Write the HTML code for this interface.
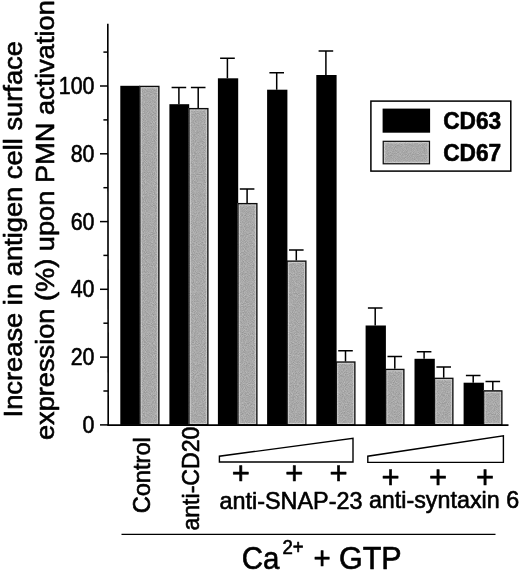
<!DOCTYPE html>
<html lang="en"><head><meta charset="utf-8"><title>CD63 / CD67 expression</title>
<style>html,body{margin:0;padding:0;background:#fff}svg{display:block;will-change:transform}text{font-family:"Liberation Sans",sans-serif;fill:#000;stroke:#000;stroke-width:.62px;stroke-linejoin:round}</style></head><body>
<svg width="520" height="571" viewBox="0 0 520 571">
<defs><filter id="grain" x="0" y="0" width="100%" height="100%" color-interpolation-filters="sRGB"><feTurbulence type="fractalNoise" baseFrequency="1.1" numOctaves="1" seed="7"/><feColorMatrix type="matrix" values="0.26 0 0 0 0.53  0.26 0 0 0 0.53  0.26 0 0 0 0.53  0 0 0 0 1"/></filter></defs>
<rect width="520" height="571" fill="#fff"/>
<rect x="120.3" y="85.8" width="19.8" height="339.1" fill="#000"/>
<rect x="139.8" y="86.4" width="19.1" height="338.5" fill="#a9a9a9" filter="url(#grain)"/>
<rect x="141.2" y="87.8" width="16.3" height="335.7" fill="none" stroke="#fff" stroke-opacity="0.35" stroke-width="1.2"/>
<rect x="139.8" y="86.4" width="19.1" height="338.5" fill="none" stroke="#0d0d0d" stroke-width="1.3"/>
<rect x="169.4" y="104.2" width="19.8" height="320.7" fill="#000"/>
<rect x="188.9" y="108.6" width="19.0" height="316.3" fill="#a9a9a9" filter="url(#grain)"/>
<rect x="190.3" y="110.0" width="16.2" height="313.5" fill="none" stroke="#fff" stroke-opacity="0.35" stroke-width="1.2"/>
<rect x="188.9" y="108.6" width="19.0" height="316.3" fill="none" stroke="#0d0d0d" stroke-width="1.3"/>
<path d="M178.9 104.2V87.5M171.6 87.5H186.2" stroke="#000" stroke-width="1.5" fill="none"/>
<path d="M198.2 108.0V87.5M190.9 87.5H205.5" stroke="#000" stroke-width="1.5" fill="none"/>
<rect x="217.9" y="78.3" width="20.3" height="346.6" fill="#000"/>
<rect x="237.9" y="203.6" width="19.0" height="221.3" fill="#a9a9a9" filter="url(#grain)"/>
<rect x="239.3" y="205.0" width="16.2" height="218.5" fill="none" stroke="#fff" stroke-opacity="0.35" stroke-width="1.2"/>
<rect x="237.9" y="203.6" width="19.0" height="221.3" fill="none" stroke="#0d0d0d" stroke-width="1.3"/>
<path d="M227.4 78.3V58.3M220.1 58.3H234.8" stroke="#000" stroke-width="1.5" fill="none"/>
<path d="M247.1 203.0V189.0M239.8 189.0H254.4" stroke="#000" stroke-width="1.5" fill="none"/>
<rect x="267.1" y="89.7" width="20.3" height="335.2" fill="#000"/>
<rect x="287.1" y="261.1" width="18.8" height="163.8" fill="#a9a9a9" filter="url(#grain)"/>
<rect x="288.5" y="262.5" width="16.0" height="161.0" fill="none" stroke="#fff" stroke-opacity="0.35" stroke-width="1.2"/>
<rect x="287.1" y="261.1" width="18.8" height="163.8" fill="none" stroke="#0d0d0d" stroke-width="1.3"/>
<path d="M276.7 89.7V72.8M269.4 72.8H284.0" stroke="#000" stroke-width="1.5" fill="none"/>
<path d="M296.3 260.5V250.0M289.0 250.0H303.6" stroke="#000" stroke-width="1.5" fill="none"/>
<rect x="316.3" y="75.0" width="20.3" height="349.9" fill="#000"/>
<rect x="336.3" y="362.0" width="18.6" height="62.9" fill="#a9a9a9" filter="url(#grain)"/>
<rect x="337.7" y="363.4" width="15.8" height="60.1" fill="none" stroke="#fff" stroke-opacity="0.35" stroke-width="1.2"/>
<rect x="336.3" y="362.0" width="18.6" height="62.9" fill="none" stroke="#0d0d0d" stroke-width="1.3"/>
<path d="M325.9 75.0V51.0M318.6 51.0H333.2" stroke="#000" stroke-width="1.5" fill="none"/>
<path d="M345.5 361.4V350.7M338.2 350.7H352.8" stroke="#000" stroke-width="1.5" fill="none"/>
<rect x="365.6" y="325.5" width="20.3" height="99.4" fill="#000"/>
<rect x="385.6" y="369.4" width="18.3" height="55.5" fill="#a9a9a9" filter="url(#grain)"/>
<rect x="387.0" y="370.8" width="15.5" height="52.7" fill="none" stroke="#fff" stroke-opacity="0.35" stroke-width="1.2"/>
<rect x="385.6" y="369.4" width="18.3" height="55.5" fill="none" stroke="#0d0d0d" stroke-width="1.3"/>
<path d="M375.2 325.5V307.9M367.9 307.9H382.5" stroke="#000" stroke-width="1.5" fill="none"/>
<path d="M394.8 368.8V356.5M387.5 356.5H402.1" stroke="#000" stroke-width="1.5" fill="none"/>
<rect x="414.5" y="358.8" width="20.3" height="66.1" fill="#000"/>
<rect x="434.5" y="378.3" width="18.4" height="46.6" fill="#a9a9a9" filter="url(#grain)"/>
<rect x="435.9" y="379.7" width="15.6" height="43.8" fill="none" stroke="#fff" stroke-opacity="0.35" stroke-width="1.2"/>
<rect x="434.5" y="378.3" width="18.4" height="46.6" fill="none" stroke="#0d0d0d" stroke-width="1.3"/>
<path d="M424.1 358.8V351.8M416.8 351.8H431.4" stroke="#000" stroke-width="1.5" fill="none"/>
<path d="M443.7 377.7V367.0M436.4 367.0H451.0" stroke="#000" stroke-width="1.5" fill="none"/>
<rect x="463.6" y="382.7" width="20.3" height="42.2" fill="#000"/>
<rect x="483.6" y="390.9" width="18.3" height="34.0" fill="#a9a9a9" filter="url(#grain)"/>
<rect x="485.0" y="392.3" width="15.5" height="31.2" fill="none" stroke="#fff" stroke-opacity="0.35" stroke-width="1.2"/>
<rect x="483.6" y="390.9" width="18.3" height="34.0" fill="none" stroke="#0d0d0d" stroke-width="1.3"/>
<path d="M473.2 382.7V375.6M465.9 375.6H480.5" stroke="#000" stroke-width="1.5" fill="none"/>
<path d="M492.8 390.3V381.4M485.5 381.4H500.1" stroke="#000" stroke-width="1.5" fill="none"/>
<path d="M107.8 23.8L108.2 425.5" stroke="#000" stroke-width="1.6" fill="none"/>
<path d="M107.4 425.04999999999995H508.5" stroke="#000" stroke-width="1.8" fill="none"/>
<path d="M100.0 424.9H108.0" stroke="#000" stroke-width="1.5" fill="none"/>
<path d="M103.4 391.0H108.0" stroke="#000" stroke-width="1.5" fill="none"/>
<path d="M100.0 357.1H108.0" stroke="#000" stroke-width="1.5" fill="none"/>
<path d="M103.4 323.2H108.0" stroke="#000" stroke-width="1.5" fill="none"/>
<path d="M100.0 289.3H108.0" stroke="#000" stroke-width="1.5" fill="none"/>
<path d="M103.4 255.4H108.0" stroke="#000" stroke-width="1.5" fill="none"/>
<path d="M100.0 221.6H108.0" stroke="#000" stroke-width="1.5" fill="none"/>
<path d="M103.4 187.7H108.0" stroke="#000" stroke-width="1.5" fill="none"/>
<path d="M100.0 153.8H108.0" stroke="#000" stroke-width="1.5" fill="none"/>
<path d="M103.4 119.9H108.0" stroke="#000" stroke-width="1.5" fill="none"/>
<path d="M100.0 86.0H108.0" stroke="#000" stroke-width="1.5" fill="none"/>
<path d="M103.4 52.1H108.0" stroke="#000" stroke-width="1.5" fill="none"/>
<text x="82.6" y="433.2" font-size="24.0" textLength="11.9" lengthAdjust="spacingAndGlyphs">0</text>
<text x="70.7" y="365.3" font-size="24.0" textLength="23.8" lengthAdjust="spacingAndGlyphs">20</text>
<text x="70.7" y="297.4" font-size="24.0" textLength="23.8" lengthAdjust="spacingAndGlyphs">40</text>
<text x="70.7" y="229.6" font-size="24.0" textLength="23.8" lengthAdjust="spacingAndGlyphs">60</text>
<text x="70.7" y="161.7" font-size="24.0" textLength="23.8" lengthAdjust="spacingAndGlyphs">80</text>
<text x="58.8" y="93.8" font-size="24.0" textLength="35.7" lengthAdjust="spacingAndGlyphs">100</text>
<text transform="translate(22.2 417.4) rotate(-90)" font-size="26.3" textLength="376.3" lengthAdjust="spacingAndGlyphs">Increase in antigen cell surface</text>
<text transform="translate(54.2 440.1) rotate(-90)" font-size="26.5" textLength="439.9" lengthAdjust="spacingAndGlyphs">expression (%) upon PMN activation</text>
<text transform="translate(149.9 513.3) rotate(-90)" font-size="24.0" textLength="76.1" lengthAdjust="spacingAndGlyphs">Control</text>
<text transform="translate(198.8 530.6) rotate(-90)" font-size="24.0" textLength="104.0" lengthAdjust="spacingAndGlyphs">anti-CD20</text>
<path d="M219.4 462V456.2L353 438.4V462Z" stroke="#000" stroke-width="1.4" fill="#fff" stroke-linejoin="miter"/>
<path d="M367.8 462.4V456.2L503.4 435.8V462.4Z" stroke="#000" stroke-width="1.4" fill="#fff" stroke-linejoin="miter"/>
<text x="231.8" y="484.3" font-size="31.0">+</text>
<text x="285.2" y="484.3" font-size="31.0">+</text>
<text x="329.4" y="484.3" font-size="31.0">+</text>
<text x="381.4" y="487.8" font-size="31.0">+</text>
<text x="429.0" y="487.8" font-size="31.0">+</text>
<text x="476.0" y="487.8" font-size="31.0">+</text>
<text x="219.4" y="508.7" font-size="24.0" textLength="143.1" lengthAdjust="spacingAndGlyphs">anti-SNAP-23</text>
<text x="368.9" y="508.3" font-size="24.0" textLength="150.2" lengthAdjust="spacingAndGlyphs">anti-syntaxin 6</text>
<path d="M121.5 534.3H495.5" stroke="#000" stroke-width="1.3" fill="none"/>
<text x="241.7" y="568.9" font-size="30.8" textLength="37.7" lengthAdjust="spacingAndGlyphs">Ca</text>
<text x="282.4" y="553.8" font-size="19.6" textLength="21.2" lengthAdjust="spacingAndGlyphs">2+</text>
<text x="313.4" y="568.9" font-size="30.8" textLength="17.2" lengthAdjust="spacingAndGlyphs">+</text>
<text x="339.0" y="568.9" font-size="30.8" textLength="62.7" lengthAdjust="spacingAndGlyphs">GTP</text>
<rect x="370.9" y="101.1" width="139.9" height="70.0" fill="#fff" stroke="#000" stroke-width="1.5"/>
<rect x="382.6" y="108.6" width="47.5" height="24.1" fill="#000"/>
<rect x="383.2" y="141.3" width="46.3" height="22.5" fill="#a9a9a9" filter="url(#grain)"/>
<rect x="384.6" y="142.7" width="43.5" height="19.7" fill="none" stroke="#fff" stroke-opacity="0.35" stroke-width="1.2"/>
<rect x="383.2" y="141.3" width="46.3" height="22.5" fill="none" stroke="#0d0d0d" stroke-width="1.2"/>
<text x="443.2" y="129.0" font-size="23.7" font-weight="bold" textLength="58.0" lengthAdjust="spacingAndGlyphs">CD63</text>
<text x="443.2" y="160.7" font-size="23.7" font-weight="bold" textLength="58.0" lengthAdjust="spacingAndGlyphs">CD67</text>
</svg></body></html>
